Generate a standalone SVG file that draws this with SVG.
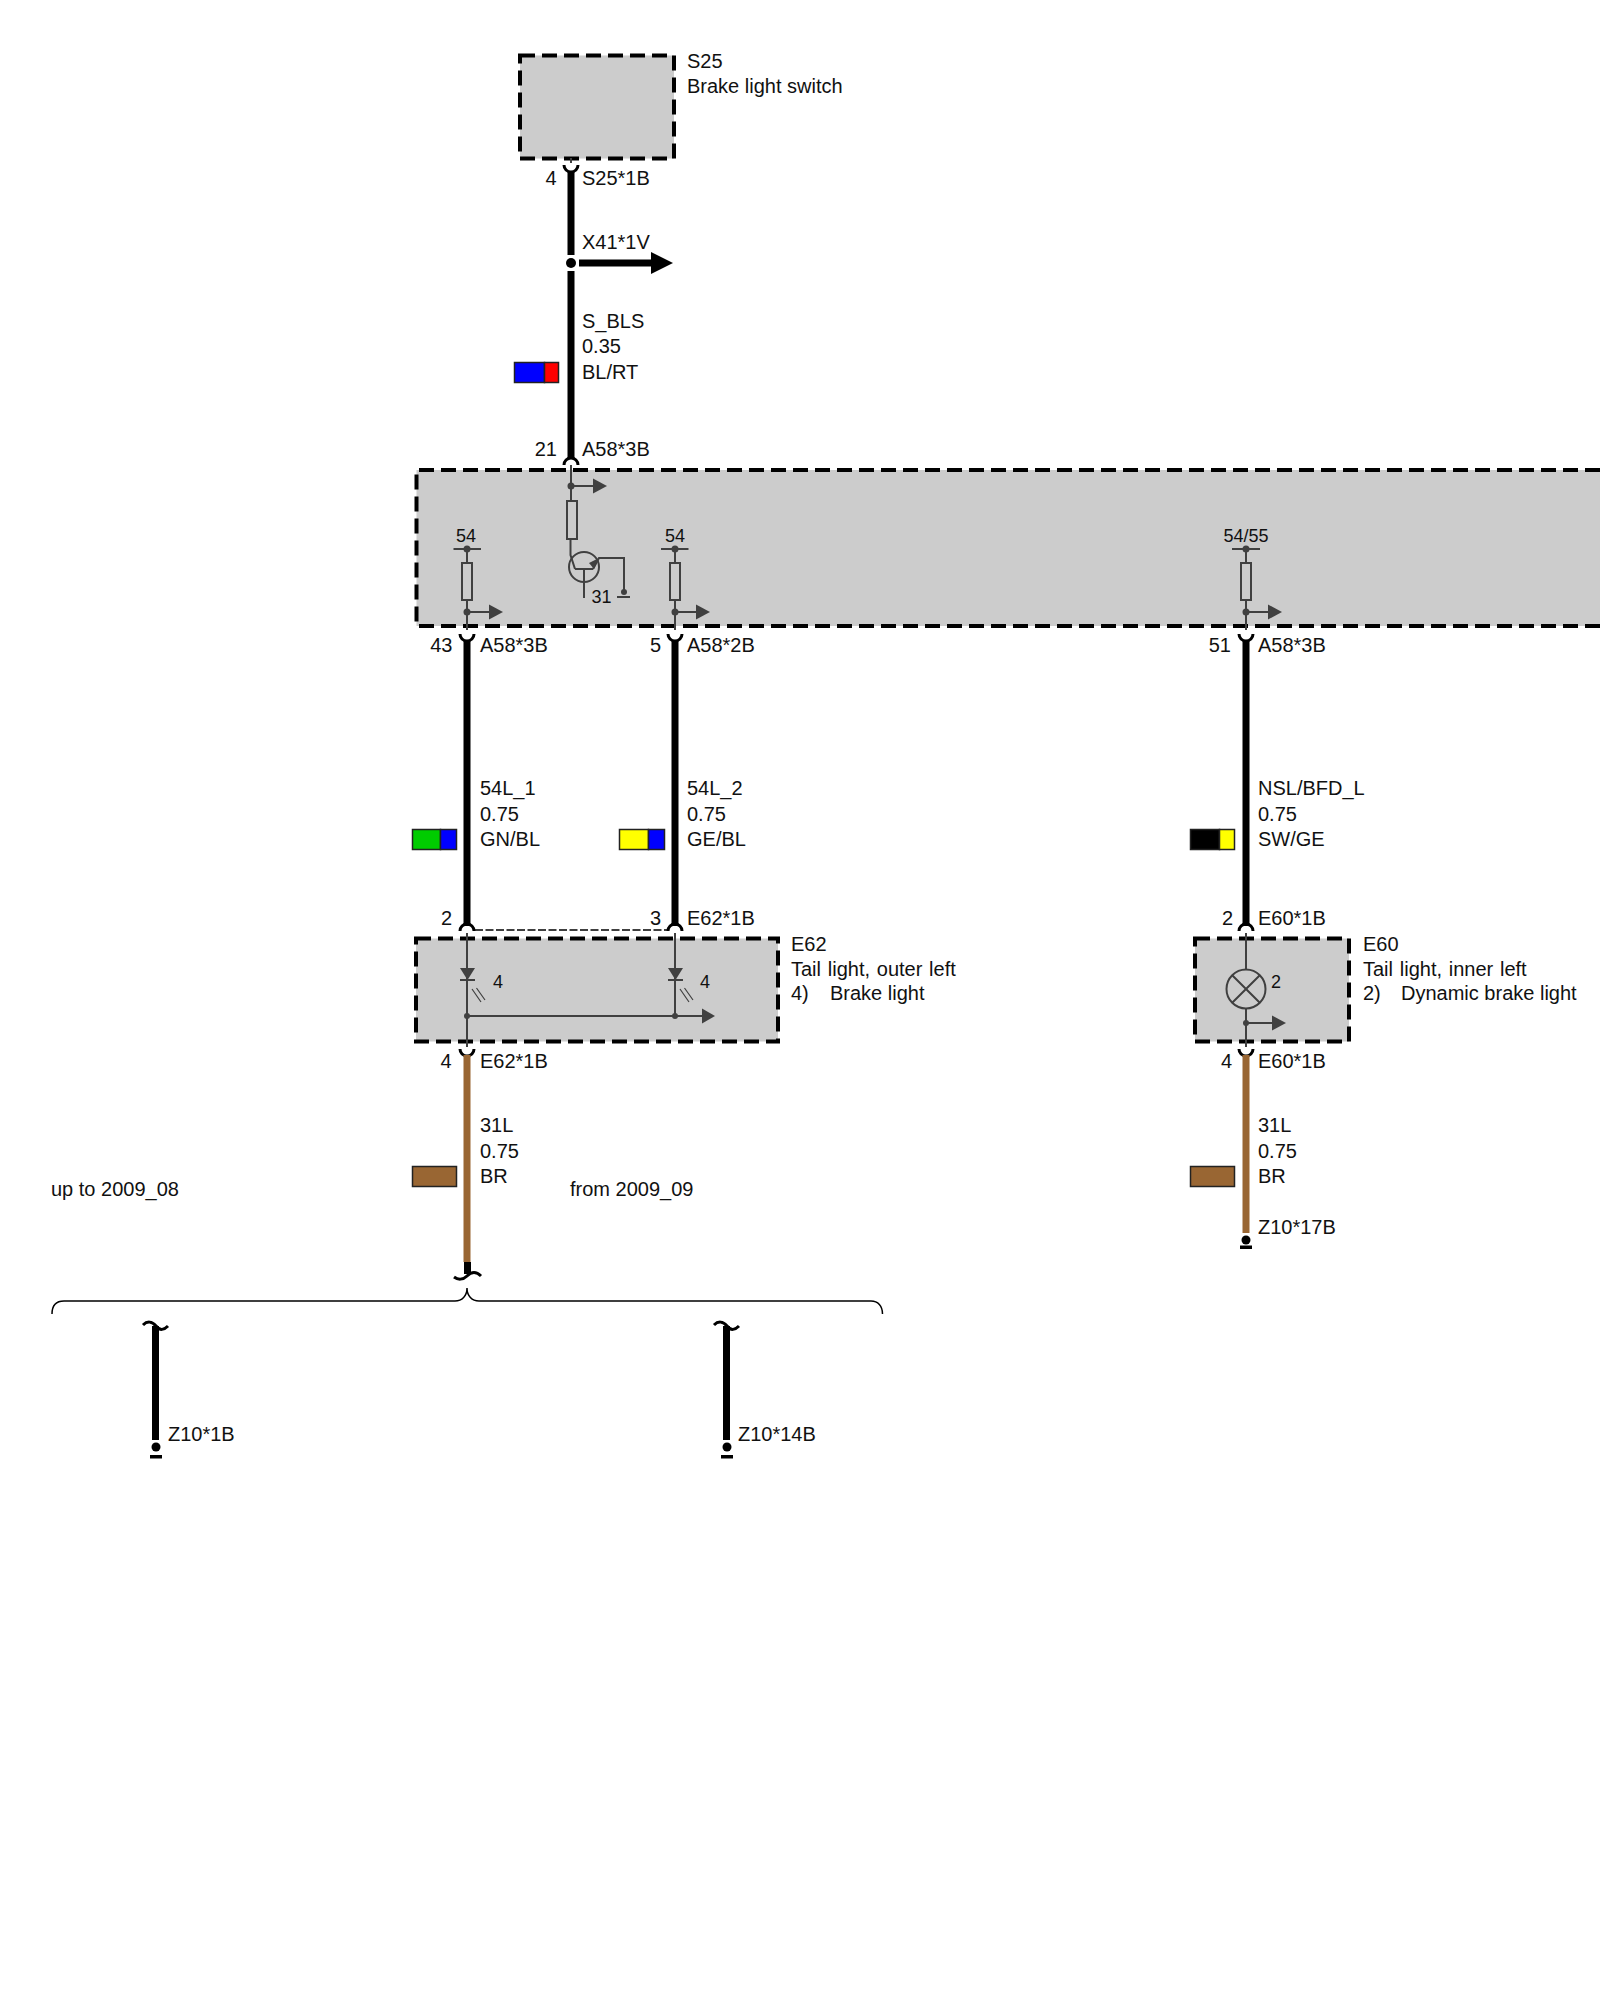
<svg xmlns="http://www.w3.org/2000/svg" width="1600" height="2000" viewBox="0 0 1600 2000">
<style>
text{font-family:"Liberation Sans",Arial,sans-serif;font-size:20px;fill:#111}
.s{font-size:18px}
.e{text-anchor:end}
.c{text-anchor:middle}
.t{word-spacing:1.2px}
.box{fill:#ccc;stroke:none}
.dash{fill:none;stroke:#000;stroke-width:4;stroke-dasharray:15 7}
.w{fill:none;stroke:#000;stroke-width:7}
.br{fill:none;stroke:#996633;stroke-width:7}
.pin{fill:none;stroke:#000;stroke-width:3}
.in{fill:none;stroke:#404040;stroke-width:2}
.thin{fill:none;stroke:#000;stroke-width:1.5}
.dot{fill:#404040}
.head{fill:#404040}
.sw{stroke:#222;stroke-width:1.5}
.k{fill:#000}
</style>
<g id="connectors">
<path class="w" d="M571 171V255M571 271V459"/>
<path class="w" d="M579 263H655"/>
<polygon class="k" points="651,252 673,263 651,274"/>
<circle class="k" cx="571" cy="263" r="5"/>
<path class="pin" d="M564 165A7 7 0 0 0 578 165"/>
<path class="pin" d="M564 465A7 7 0 0 1 578 465"/>
<path class="w" d="M467 640V926M675 640V926M1246 640V926"/>
<path class="pin" d="M460 634A7 7 0 0 0 474 634M668 634A7 7 0 0 0 682 634M1239 634A7 7 0 0 0 1253 634"/>
<path class="pin" d="M460 931A7 7 0 0 1 474 931M668 931A7 7 0 0 1 682 931M1239 931A7 7 0 0 1 1253 931"/>
<path d="M475 930H667" fill="none" stroke="#000" stroke-width="1.500" stroke-dasharray="8 2.500"/>
<path class="pin" d="M460 1049A7 7 0 0 0 474 1049M1239 1049A7 7 0 0 0 1253 1049"/>
<path class="br" d="M467 1055V1262M1246 1055V1233"/>
<path class="w" d="M467.500 1262V1274"/>
<path class="pin" d="M454 1277C458 1280 463 1280 467 1276C471 1272 476 1271 481 1276"/>
<path class="thin" d="M52 1314C52 1306 56 1301 64 1301H455C462 1301 467 1296 467 1288C467 1296 472 1301 479 1301H871C878 1301 882.500 1306 882.500 1314"/>
<path class="pin" d="M143 1325C147 1321 152 1321 156 1326C160 1331 164 1330 168 1326"/>
<path class="pin" d="M714 1325C718 1321 723 1321 727 1326C731 1331 735 1330 739 1326"/>
<path class="w" d="M155.500 1326V1440M726.500 1326V1440"/>
</g>
<g id="S25">
<rect class="box" x="520" y="55.500" width="154" height="103"/>
<rect class="dash" x="520" y="55.500" width="154" height="103"/>
<path class="in" d="M571 158V163"/>
<text x="687" y="68">S25</text>
<text x="687" y="93">Brake light switch</text>
</g>
<g id="wire-S_BLS">
<text class="e" x="556.500" y="185">4</text>
<text x="582" y="185">S25*1B</text>
<text x="582" y="249">X41*1V</text>
<text x="582" y="328">S_BLS</text>
<text x="582" y="353">0.35</text>
<text x="582" y="379">BL/RT</text>
<rect class="sw" x="514.500" y="362.500" width="30" height="20" fill="#0000ff"/>
<rect class="sw" x="544.500" y="362.500" width="14" height="20" fill="#ff0000"/>
<text class="e" x="557" y="456">21</text>
<text x="582" y="456">A58*3B</text>
</g>
<g id="A58">
<rect class="box" x="416.500" y="470" width="1183.500" height="156"/>
<path class="dash" d="M1600 470H416.500V626H1600"/>
<path class="in" d="M571 465V501M570.500 540V555L575 569M571 486H595"/>
<polygon class="head" points="593,478.500 607,486 593,493.500"/>
<circle class="dot" cx="571" cy="486" r="3.500"/>
<rect class="in" x="567" y="501" width="10" height="38"/>
<circle class="in" cx="584" cy="567" r="15"/>
<path class="in" d="M584 569V598M575 569H593M593 569L599 558H624V592"/>
<polygon class="head" points="599,558 589,563 594,569"/>
<circle class="dot" cx="624" cy="592" r="3"/>
<path class="in" d="M617 597H630"/>
<text class="s" x="591.500" y="603">31</text>
<path class="in" d="M453.500 549H481M467 549V563M467 600V630M467 612H491"/>
<rect class="in" x="462" y="563" width="10" height="37"/>
<circle class="dot" cx="467" cy="549" r="3.500"/>
<circle class="dot" cx="467" cy="612" r="3.500"/>
<polygon class="head" points="489,604.500 503,612 489,619.500"/>
<text class="s c" x="466" y="542">54</text>
<path class="in" d="M661 549H688.500M675 549V563M675 600V630M675 612H698"/>
<rect class="in" x="670" y="563" width="10" height="37"/>
<circle class="dot" cx="675" cy="549" r="3.500"/>
<circle class="dot" cx="675" cy="612" r="3.500"/>
<polygon class="head" points="696,604.500 710,612 696,619.500"/>
<text class="s c" x="675" y="542">54</text>
<path class="in" d="M1232 549H1260M1246 549V563M1246 600V630M1246 612H1270"/>
<rect class="in" x="1241" y="563" width="10" height="37"/>
<circle class="dot" cx="1246" cy="549" r="3.500"/>
<circle class="dot" cx="1246" cy="612" r="3.500"/>
<polygon class="head" points="1268,604.500 1282,612 1268,619.500"/>
<text class="s c" x="1246" y="542">54/55</text>
</g>
<g id="wires-A58-lower">
<text class="e" x="452.500" y="651.500">43</text>
<text x="480" y="651.500">A58*3B</text>
<text class="e" x="661" y="651.500">5</text>
<text x="687" y="651.500">A58*2B</text>
<text class="e" x="1231" y="651.500">51</text>
<text x="1258" y="651.500">A58*3B</text>
<text x="480" y="795">54L_1</text>
<text x="480" y="821">0.75</text>
<text x="480" y="846">GN/BL</text>
<rect class="sw" x="412.500" y="829.500" width="28" height="20" fill="#00cc00"/>
<rect class="sw" x="440.500" y="829.500" width="16" height="20" fill="#0000ff"/>
<text x="687" y="795">54L_2</text>
<text x="687" y="821">0.75</text>
<text x="687" y="846">GE/BL</text>
<rect class="sw" x="619.500" y="829.500" width="29" height="20" fill="#ffff00"/>
<rect class="sw" x="648.500" y="829.500" width="16" height="20" fill="#0000ff"/>
<text x="1258" y="795">NSL/BFD_L</text>
<text x="1258" y="821">0.75</text>
<text x="1258" y="846">SW/GE</text>
<rect class="sw" x="1190.500" y="829.500" width="29" height="20" fill="#000"/>
<rect class="sw" x="1219.500" y="829.500" width="15" height="20" fill="#ffff00"/>
<text class="e" x="452" y="925">2</text>
<text class="e" x="661" y="925">3</text>
<text x="687" y="925">E62*1B</text>
<text class="e" x="1233" y="925">2</text>
<text x="1258" y="925">E60*1B</text>
</g>
<g id="E62">
<rect class="box" x="416" y="938.500" width="362" height="103"/>
<rect class="dash" x="416" y="938.500" width="362" height="103"/>
<path class="in" d="M467 933V1047M675 933V1016M467 1016H704"/>
<polygon class="head" points="460,968 475,968 467.500,980"/>
<polygon class="head" points="668,968 683,968 675.500,980"/>
<path class="in" d="M460 980H475M668 980H683"/>
<path d="M472 989L481 1002M476.500 988L485 1000M680 989L689 1002M684.500 988L693 1000" fill="none" stroke="#404040" stroke-width="1.200"/>
<circle class="dot" cx="467" cy="1016" r="3"/>
<circle class="dot" cx="675" cy="1016" r="3"/>
<polygon class="head" points="702,1008.500 715,1016 702,1023.500"/>
<text class="s" x="493" y="988">4</text>
<text class="s" x="700" y="988">4</text>
<text x="791" y="951">E62</text>
<text class="t" x="791" y="976">Tail light, outer left</text>
<text x="791" y="1000">4)</text>
<text x="830" y="1000">Brake light</text>
</g>
<g id="E60">
<rect class="box" x="1195" y="938.500" width="154" height="103"/>
<rect class="dash" x="1195" y="938.500" width="154" height="103"/>
<path class="in" d="M1246 933V969.500M1246 1008.500V1047M1246 1023H1274"/>
<circle class="in" cx="1246" cy="989" r="19.500"/>
<path class="in" d="M1232.200 975.200L1259.800 1002.800M1259.800 975.200L1232.200 1002.800"/>
<circle class="dot" cx="1246" cy="1023" r="3"/>
<polygon class="head" points="1272,1015.500 1286,1023 1272,1030.500"/>
<text class="s" x="1271" y="988">2</text>
<text x="1363" y="951">E60</text>
<text class="t" x="1363" y="976">Tail light, inner left</text>
<text x="1363" y="1000">2)</text>
<text x="1401" y="1000">Dynamic brake light</text>
</g>
<g id="wires-31L">
<text class="e" x="451.500" y="1068">4</text>
<text x="480" y="1068">E62*1B</text>
<text x="480" y="1132">31L</text>
<text x="480" y="1158">0.75</text>
<text x="480" y="1183">BR</text>
<rect class="sw" x="412.500" y="1166.500" width="44" height="20" fill="#996633"/>
<text class="e" x="1232" y="1068">4</text>
<text x="1258" y="1068">E60*1B</text>
<text x="1258" y="1132">31L</text>
<text x="1258" y="1158">0.75</text>
<text x="1258" y="1183">BR</text>
<rect class="sw" x="1190.500" y="1166.500" width="44" height="20" fill="#996633"/>
</g>
<g id="Z10-17B">
<circle class="k" cx="1246" cy="1240" r="4.500"/>
<rect class="k" x="1240" y="1245.500" width="12" height="3.500"/>
<text x="1258" y="1234">Z10*17B</text>
</g>
<g id="variants">
<text x="51" y="1196">up to 2009_08</text>
<text x="570" y="1196">from 2009_09</text>
</g>
<g id="Z10-1B">
<circle class="k" cx="156" cy="1447" r="4.500"/>
<rect class="k" x="150" y="1455" width="12" height="3.500"/>
<text x="168" y="1441">Z10*1B</text>
</g>
<g id="Z10-14B">
<circle class="k" cx="727" cy="1447" r="4.500"/>
<rect class="k" x="721" y="1455" width="12" height="3.500"/>
<text x="738" y="1441">Z10*14B</text>
</g>
</svg>
